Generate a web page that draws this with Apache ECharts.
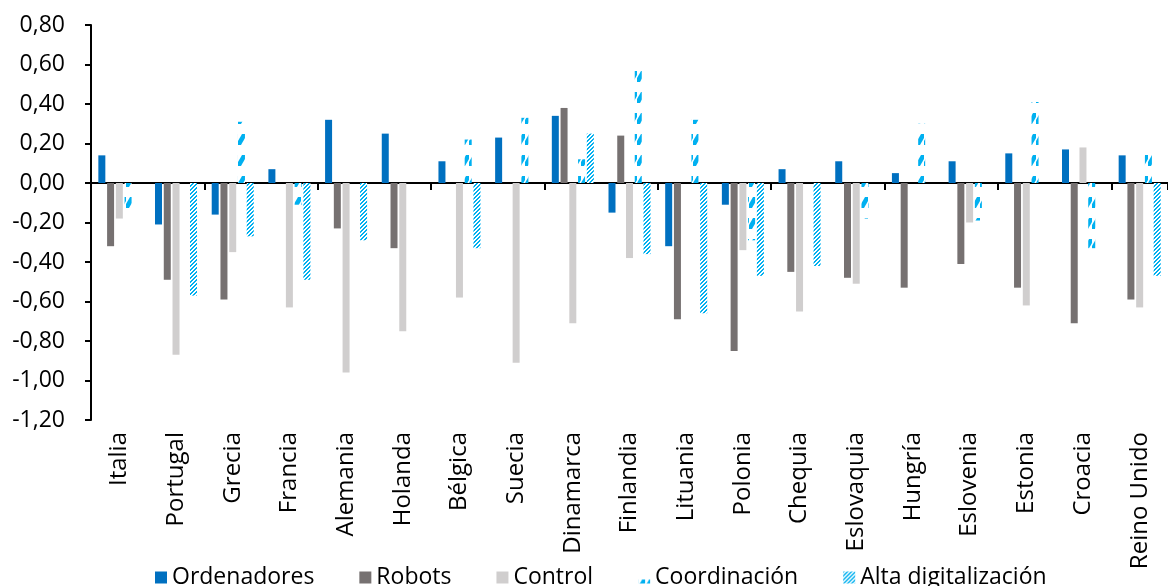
<!DOCTYPE html>
<html>
<head>
<meta charset="utf-8">
<script src="https://cdn.jsdelivr.net/npm/echarts@6/dist/echarts.min.js"></script>
<style>
  html, body { margin: 0; padding: 0; background: #fff; }
  #chart { width: 1168px; height: 586px; }
</style>
</head>
<body>
<div id="chart"></div>
<script>
var categories = ['Italia', 'Portugal', 'Grecia', 'Francia', 'Alemania', 'Holanda', 'Bélgica', 'Suecia',
  'Dinamarca', 'Finlandia', 'Lituania', 'Polonia', 'Chequia', 'Eslovaquia', 'Hungría', 'Eslovenia',
  'Estonia', 'Croacia', 'Reino Unido'];

var ordenadores = [0.14, -0.21, -0.16, 0.07, 0.32, 0.25, 0.11, 0.23, 0.34, -0.15, -0.32, -0.11, 0.07, 0.11, 0.05, 0.11, 0.15, 0.17, 0.14];
var robots = [-0.32, -0.49, -0.59, 0, -0.23, -0.33, 0, 0, 0.38, 0.24, -0.69, -0.85, -0.45, -0.48, -0.53, -0.41, -0.53, -0.71, -0.59];
var control = [-0.18, -0.87, -0.35, -0.63, -0.96, -0.75, -0.58, -0.91, -0.71, -0.38, 0, -0.34, -0.65, -0.51, 0, -0.20, -0.62, 0.18, -0.63];
var coordinacion = [-0.16, 0, 0.31, -0.11, 0, 0, 0.22, 0.33, 0.12, 0.57, 0.32, -0.29, 0, -0.18, 0.30, -0.19, 0.41, -0.33, 0.18];
var altaDigital = [0, -0.57, -0.27, -0.49, -0.29, 0, -0.33, 0, 0.25, -0.36, -0.66, -0.47, -0.42, 0, 0, 0, 0, 0, -0.47];

var seriesNames = ['Ordenadores', 'Robots', 'Control', 'Coordinación', 'Alta digitalización'];

// slanted dashes pattern (Coordinación)
function dashPattern() {
  var c = document.createElement('canvas');
  c.width = 7; c.height = 21;
  var ctx = c.getContext('2d');
  ctx.fillStyle = '#fff';
  ctx.fillRect(0, 0, 7, 21);
  ctx.fillStyle = '#00B0F0';
  ctx.beginPath();
  ctx.moveTo(0, 19); ctx.lineTo(3, 19); ctx.lineTo(7, 12); ctx.lineTo(7, 8);
  ctx.lineTo(4, 8); ctx.lineTo(0, 15);
  ctx.closePath();
  ctx.fill();
  return c;
}

// fine diagonal hatch (Alta digitalización)
function hatchPattern() {
  var c = document.createElement('canvas');
  c.width = 4; c.height = 4;
  var ctx = c.getContext('2d');
  ctx.fillStyle = '#fff';
  ctx.fillRect(0, 0, 4, 4);
  ctx.fillStyle = '#00B0F0';
  ctx.fillRect(3, 0, 1, 1);
  ctx.fillRect(2, 1, 1, 1);
  ctx.fillRect(1, 2, 1, 1);
  ctx.fillRect(0, 3, 1, 1);
  ctx.fillRect(0, 0, 1, 1);
  ctx.fillRect(3, 1, 1, 1);
  ctx.fillRect(2, 2, 1, 1);
  ctx.fillRect(1, 3, 1, 1);
  return c;
}

var chart = echarts.init(document.getElementById('chart'));

function bar(name, data, color) {
  return {
    name: name,
    type: 'bar',
    xAxisIndex: 0,
    data: data,
    barWidth: 7,
    barGap: '25%',
    itemStyle: { color: color },
    animation: false
  };
}

var option = {
  backgroundColor: '#fff',
  textStyle: { fontFamily: 'Open Sans' },
  grid: { left: 91, right: 0, top: 25, bottom: 166 },
  legend: {
    data: seriesNames,
    top: 561,
    left: 150,
    itemWidth: 12,
    itemHeight: 12,
    itemGap: 45,
    icon: 'rect',
    textStyle: { fontSize: 23, color: '#000', fontFamily: 'Open Sans' }
  },
  xAxis: [
    {
      type: 'category',
      data: categories,
      position: 'bottom',
      axisLine: { onZero: true, lineStyle: { color: '#000', width: 2 } },
      axisTick: { show: true, length: 7, lineStyle: { color: '#000', width: 2 } },
      axisLabel: { show: false }
    },
    {
      type: 'category',
      data: categories,
      position: 'bottom',
      axisLine: { show: false, onZero: false },
      axisTick: { show: false },
      axisLabel: { rotate: 90, fontSize: 24, color: '#000', margin: 12, fontFamily: 'Open Sans' }
    }
  ],
  yAxis: {
    type: 'value',
    min: -1.2,
    max: 0.8,
    interval: 0.2,
    splitLine: { show: false },
    axisLine: { show: true, lineStyle: { color: '#000', width: 2 } },
    axisTick: { show: true, length: 6, lineStyle: { color: '#000', width: 2 } },
    axisLabel: {
      fontSize: 23,
      color: '#000',
      margin: 26,
      fontFamily: 'Open Sans',
      formatter: function (v) { return v.toFixed(2).replace('.', ','); }
    }
  },
  series: [
    bar(seriesNames[0], ordenadores, '#0070C0'),
    bar(seriesNames[1], robots, '#767171'),
    bar(seriesNames[2], control, '#D0CECE'),
    bar(seriesNames[3], coordinacion, { image: dashPattern(), repeat: 'repeat' }),
    bar(seriesNames[4], altaDigital, { image: hatchPattern(), repeat: 'repeat' })
  ]
};

chart.setOption(option);
</script>
</body>
</html>
